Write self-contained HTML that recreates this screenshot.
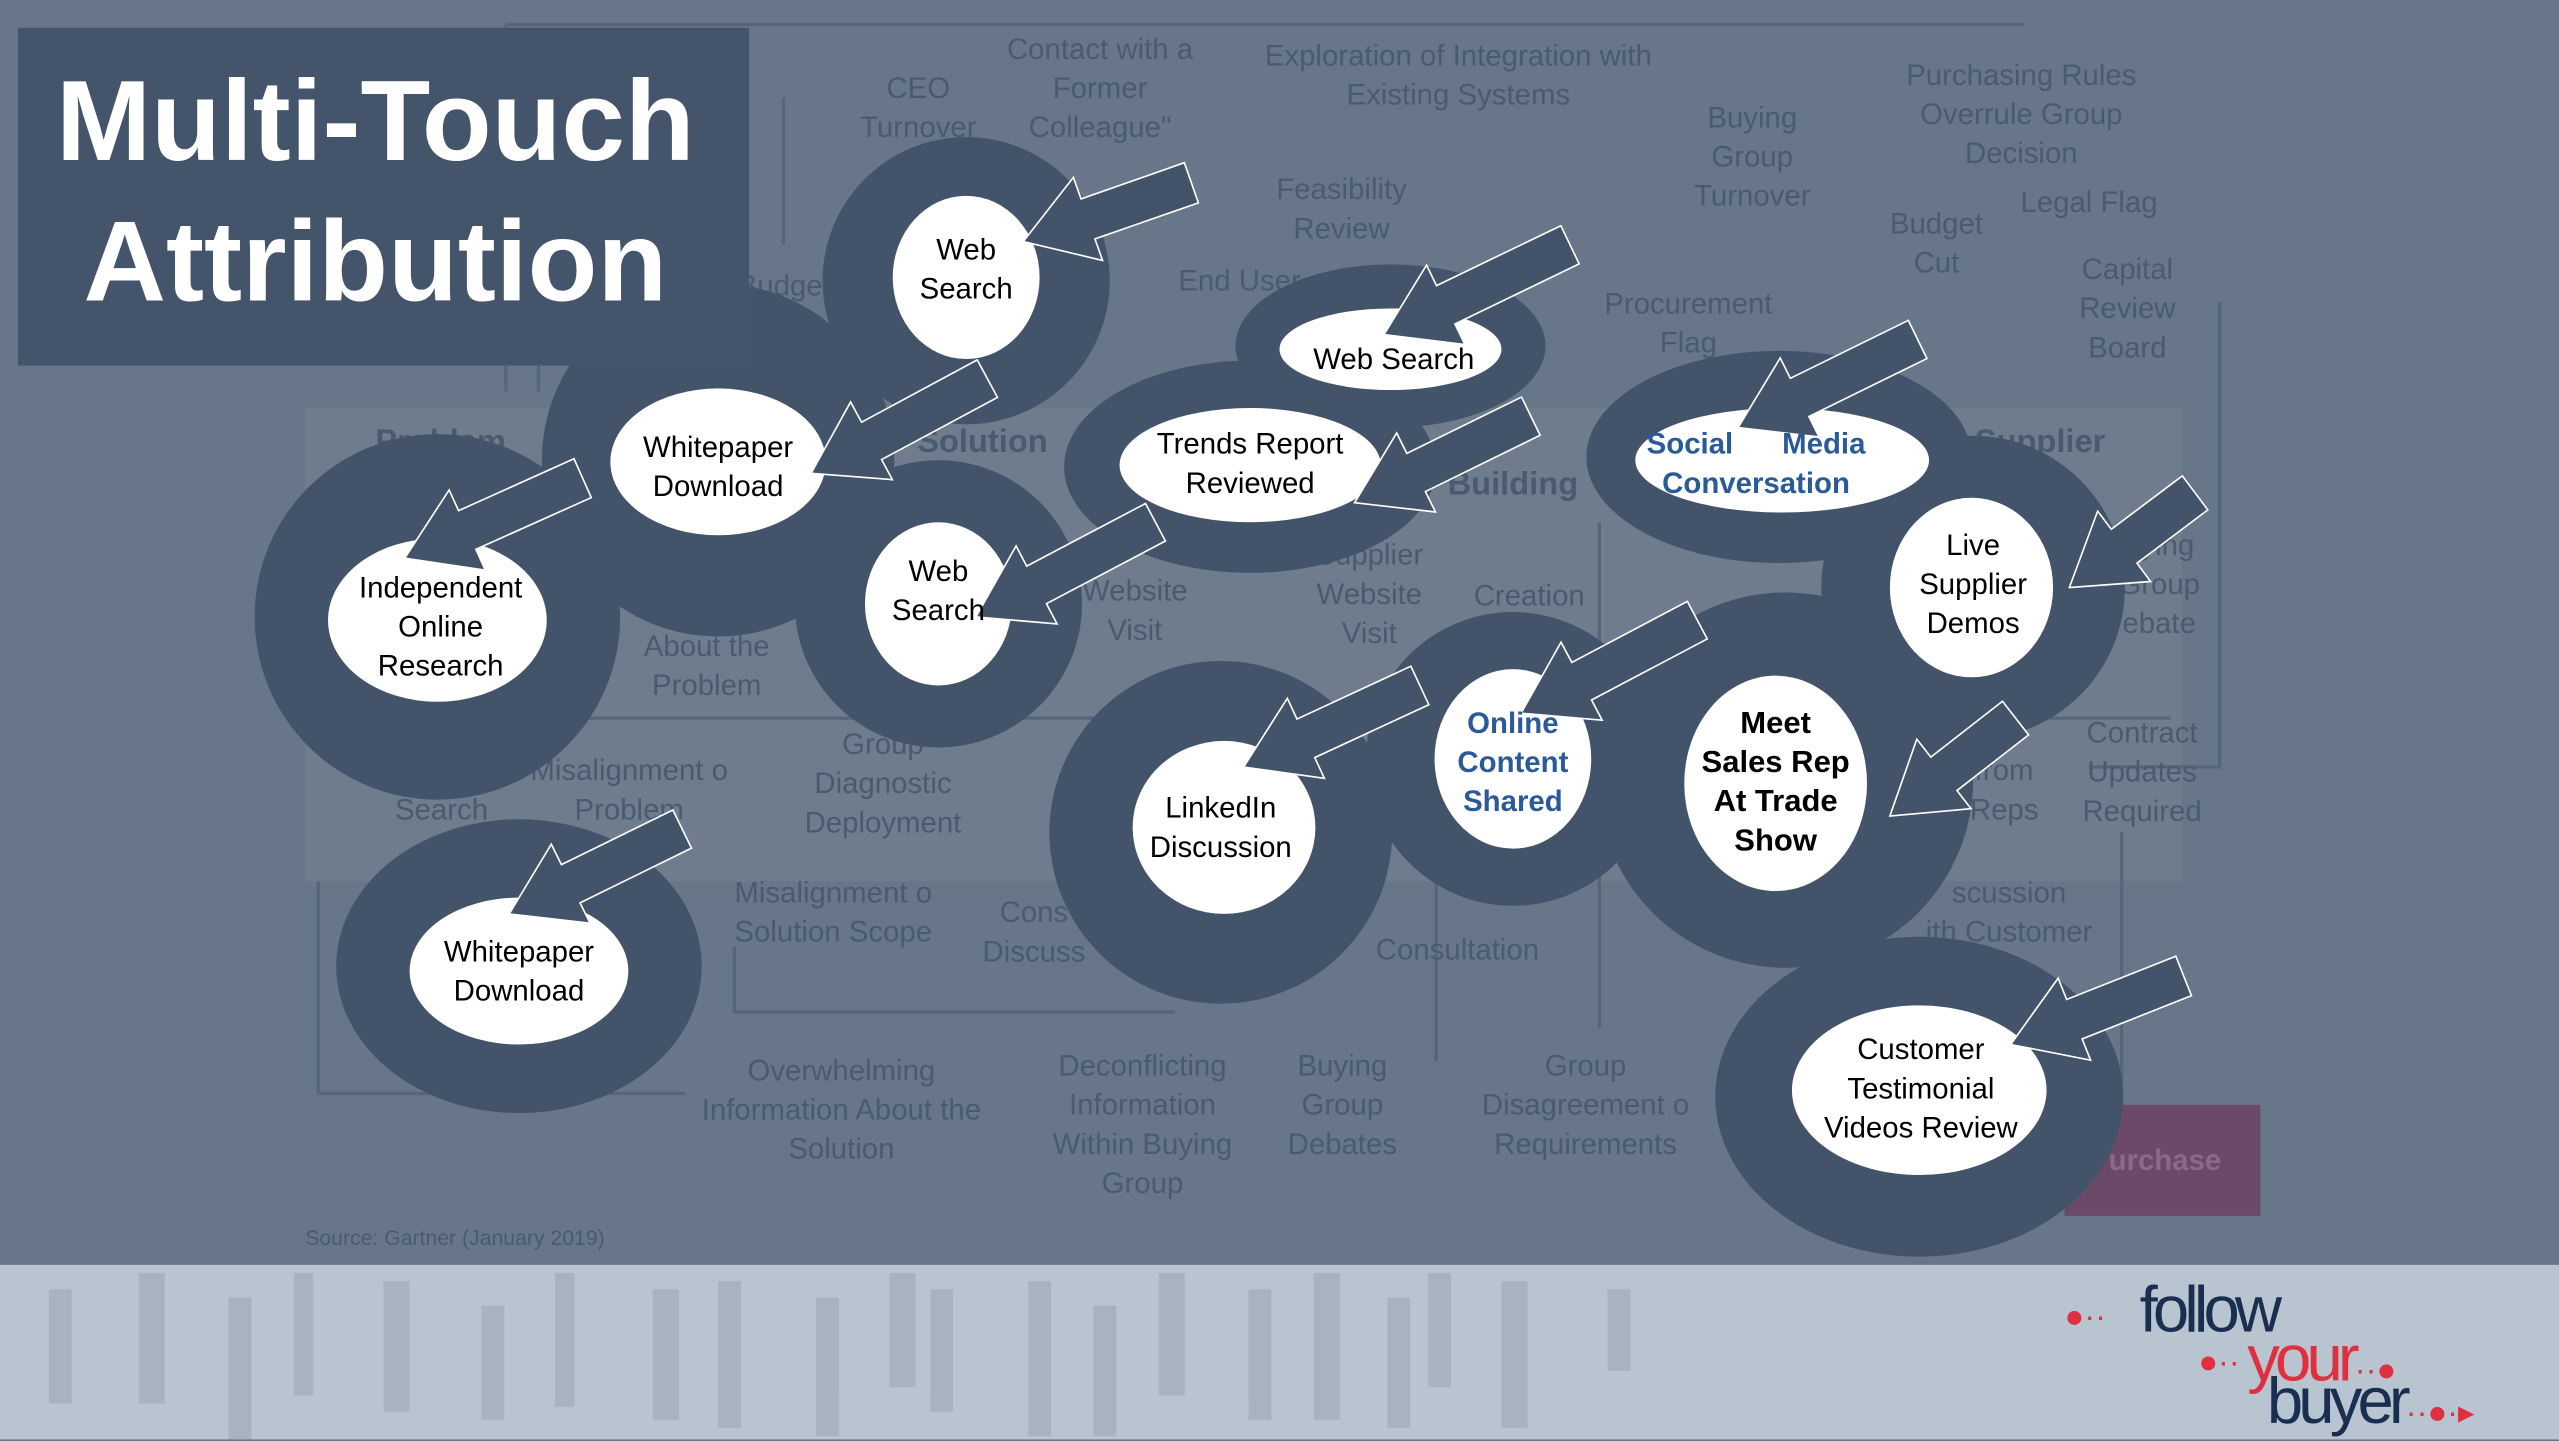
<!DOCTYPE html>
<html><head><meta charset="utf-8"><style>
html,body{margin:0;padding:0;overflow:hidden;background:#687689}
#w{position:absolute;left:0;top:0;width:1568px;height:882px;transform:scale(1.63202);transform-origin:0 0;background:#687689;font-family:"Liberation Sans",sans-serif}
.bt{position:absolute;color:#4a5a70;font-size:18px;text-align:center;line-height:24px;white-space:nowrap}
.bb{font-weight:bold}
svg{position:absolute;left:0;top:0}
.lbl{position:absolute;text-align:center;color:#000;font-size:18px;line-height:24px;white-space:nowrap;transform:translate(-50%,-50%)}
</style></head><body><div id="w">
<svg width="1568" height="882" style="z-index:0">
<g stroke="#56667a" stroke-width="2" fill="none">
<rect x="187" y="250" width="1150" height="290" fill="#6e7c8e" stroke="none"/>
<path d="M310 15 H1240 M195 540 V670 H420 M195 440 H1330 M880 440 V650 M980 320 V630 M1300 510 V680 M1360 185 V470 H1280 M450 580 V620 H720 M310 15 V240 M330 200 V240 M480 60 V150"/>
</g>
<rect x="1265" y="677" width="120" height="68" fill="#6a4a68"/>
<rect x="0" y="775" width="1568" height="107" fill="#b8c4d0"/>
<g fill="#9aa6b4" opacity="0.55">
<rect x="30" y="790" width="14" height="70"/><rect x="85" y="780" width="16" height="80"/><rect x="140" y="795" width="14" height="87"/><rect x="180" y="780" width="12" height="75"/><rect x="235" y="785" width="16" height="80"/><rect x="295" y="800" width="14" height="70"/><rect x="340" y="780" width="12" height="82"/><rect x="400" y="790" width="16" height="80"/><rect x="440" y="785" width="14" height="90"/><rect x="500" y="795" width="14" height="85"/><rect x="545" y="780" width="16" height="70"/><rect x="570" y="790" width="14" height="75"/><rect x="630" y="785" width="14" height="95"/><rect x="670" y="800" width="14" height="80"/><rect x="710" y="780" width="16" height="75"/><rect x="765" y="790" width="14" height="80"/><rect x="805" y="780" width="16" height="90"/><rect x="850" y="795" width="14" height="80"/><rect x="875" y="780" width="14" height="70"/><rect x="920" y="785" width="16" height="90"/><rect x="985" y="790" width="14" height="50"/>
</g>
</svg>

<div class="bt" style="left:527px;top:42px">CEO<br>Turnover</div>
<div class="bt" style="left:617px;top:18px">Contact with a<br>Former<br>Colleague"</div>
<div class="bt" style="left:775px;top:22px">Exploration of Integration with<br>Existing Systems</div>
<div class="bt" style="left:1038px;top:60px">Buying<br>Group<br>Turnover</div>
<div class="bt" style="left:1168px;top:34px">Purchasing Rules<br>Overrule Group<br>Decision</div>
<div class="bt" style="left:1238px;top:112px">Legal Flag</div>
<div class="bt" style="left:782px;top:104px">Feasibility<br>Review</div>
<div class="bt" style="left:1158px;top:125px">Budget<br>Cut</div>
<div class="bt" style="left:1274px;top:153px">Capital<br>Review<br>Board</div>
<div class="bt" style="left:983px;top:174px">Procurement<br>Flag</div>
<div class="bt" style="left:722px;top:160px">End User</div>
<div class="bt" style="left:452px;top:163px">Budge</div>
<div class="bt bb" style="left:230px;top:259px;font-size:20px">Problem</div>
<div class="bt bb" style="left:562px;top:259px;font-size:20px">Solution</div>
<div class="bt bb" style="left:887px;top:285px;font-size:20px">Building</div>
<div class="bt bb" style="left:1210px;top:259px;font-size:20px">Supplier</div>
<div class="bt" style="left:663px;top:350px">Website<br>Visit</div>
<div class="bt" style="left:806px;top:328px">Supplier<br>Website<br>Visit</div>
<div class="bt" style="left:903px;top:353px">Creation</div>
<div class="bt" style="left:1298px;top:322px">uying<br>Group<br>ebate</div>
<div class="bt" style="left:388px;top:360px">Information<br>About the<br>Problem</div>
<div class="bt" style="left:242px;top:460px">Web<br>Search</div>
<div class="bt" style="left:325px;top:460px">Misalignment o<br>Problem</div>
<div class="bt" style="left:493px;top:444px">Group<br>Diagnostic<br>Deployment</div>
<div class="bt" style="left:1276px;top:437px">Contract<br>Updates<br>Required</div>
<div class="bt" style="left:1207px;top:460px">from<br>Reps</div>
<div class="bt" style="left:450px;top:535px">Misalignment o<br>Solution Scope</div>
<div class="bt" style="left:602px;top:547px">Cons<br>Discuss</div>
<div class="bt" style="left:843px;top:570px">Consultation</div>
<div class="bt" style="left:1180px;top:535px">scussion<br>ith Customer</div>
<div class="bt" style="left:430px;top:644px">Overwhelming<br>Information About the<br>Solution</div>
<div class="bt" style="left:645px;top:641px">Deconflicting<br>Information<br>Within Buying<br>Group</div>
<div class="bt" style="left:789px;top:641px">Buying<br>Group<br>Debates</div>
<div class="bt" style="left:908px;top:641px">Group<br>Disagreement o<br>Requirements</div>
<div class="bt bb" style="left:1292px;top:699px;color:#8a6a88">urchase</div>
<div class="bt" style="left:187px;top:747px;font-size:13px">Source: Gartner (January 2019)</div>

<svg width="1568" height="882" id="fg" style="z-index:2">
<g fill="#43546a">
<circle cx="592" cy="172" r="88"/>
<circle cx="440" cy="282" r="108"/>
<circle cx="268" cy="378" r="112"/>
<circle cx="575" cy="370" r="88"/>
<ellipse cx="852" cy="212" rx="95" ry="50"/>
<ellipse cx="766" cy="286" rx="114" ry="65"/>
<ellipse cx="1090" cy="280" rx="118" ry="65"/>
<circle cx="1209" cy="360" r="93"/>
<circle cx="927" cy="465" r="90"/>
<circle cx="748" cy="510" r="105"/>
<circle cx="1094" cy="478" r="115"/>
<ellipse cx="318" cy="592" rx="112" ry="90"/>
<ellipse cx="1176" cy="672" rx="125" ry="98"/>
</g>
<g fill="#fff">
<ellipse cx="592" cy="170" rx="45" ry="50"/>
<ellipse cx="440" cy="283" rx="66" ry="45"/>
<ellipse cx="268" cy="380" rx="67" ry="50"/>
<ellipse cx="575" cy="370" rx="45" ry="50"/>
<ellipse cx="852" cy="214" rx="68" ry="25"/>
<ellipse cx="766" cy="285" rx="80" ry="35"/>
<ellipse cx="1092" cy="282" rx="90" ry="32"/>
<ellipse cx="1208" cy="360" rx="50" ry="55"/>
<ellipse cx="927" cy="465" rx="48" ry="55"/>
<ellipse cx="750" cy="507" rx="56" ry="53"/>
<ellipse cx="1088" cy="480" rx="56" ry="66"/>
<ellipse cx="318" cy="595" rx="67" ry="45"/>
<ellipse cx="1176" cy="668" rx="78" ry="52"/>
</g>
<g id="arr" fill="#43546a" stroke="#fff" stroke-width="1"></g>
</svg>

<div class="lbl" style="left:592px;top:165px;z-index:3">Web<br>Search</div>
<div class="lbl" style="left:440px;top:286px;z-index:3">Whitepaper<br>Download</div>
<div class="lbl" style="left:270px;top:384px;z-index:3">Independent<br>Online<br>Research</div>
<div class="lbl" style="left:575px;top:362px;z-index:3">Web<br>Search</div>
<div class="lbl" style="left:854px;top:220px;z-index:3">Web Search</div>
<div class="lbl" style="left:766px;top:284px;z-index:3">Trends Report<br>Reviewed</div>
<div class="lbl" style="left:1076px;top:284px;z-index:3;color:#2a5a9a;font-weight:bold">Social &nbsp; &nbsp; &nbsp;Media<br>Conversation</div>
<div class="lbl" style="left:1209px;top:358px;z-index:3">Live<br>Supplier<br>Demos</div>
<div class="lbl" style="left:927px;top:467px;z-index:3;color:#2a5a9a;font-weight:bold">Online<br>Content<br>Shared</div>
<div class="lbl" style="left:748px;top:507px;z-index:3">LinkedIn<br>Discussion</div>
<div class="lbl" style="left:1088px;top:480px;z-index:3;font-weight:bold;font-size:19px">Meet<br>Sales Rep<br>At Trade<br>Show</div>
<div class="lbl" style="left:318px;top:595px;z-index:3">Whitepaper<br>Download</div>
<div class="lbl" style="left:1177px;top:667px;z-index:3">Customer<br>Testimonial<br>Videos Review</div>

<div style="position:absolute;left:11px;top:17px;width:448px;height:207px;background:#44556b;z-index:4;color:#fff;font-weight:bold;font-size:70px;line-height:86px;text-align:center;padding-top:14px;box-sizing:border-box;padding-right:10px">Multi-Touch<br>Attribution</div>

<div style="position:absolute;left:1265px;top:782px;width:290px;height:100px;z-index:4;font-family:'Liberation Sans',sans-serif;font-size:40px;letter-spacing:-3px;line-height:34px">
<div style="position:absolute;left:0;top:8px;color:#e03040;font-size:20px;letter-spacing:0">●··</div>
<div style="position:absolute;left:46px;top:4px;color:#1a2e50">follow</div>
<div style="position:absolute;left:82px;top:36px;color:#e03040;font-size:20px;letter-spacing:0">●··</div>
<div style="position:absolute;left:112px;top:34px;color:#e03040">your<span style="font-size:20px;letter-spacing:0">··●</span></div>
<div style="position:absolute;left:124px;top:60px;color:#1a2e50">buyer<span style="font-size:20px;letter-spacing:0;color:#e03040">··●·▸</span></div>
</div>
</div>
<script>
var A=[[627,148,730,112],[848,205,962,150],[497,290,605,232],[248,342,357,293],[830,308,938,255],[598,378,708,320],[1065,262,1175,208],[1268,360,1345,302],[932,437,1040,380],[762,470,870,420],[1158,500,1235,440],[312,560,418,508],[1232,640,1338,598]];
var g=document.getElementById('arr'),s='';
A.forEach(function(a){var tx=a[0],ty=a[1],ex=a[2],ey=a[3],dx=ex-tx,dy=ey-ty,L=Math.hypot(dx,dy),ux=dx/L,uy=dy/L,px=-uy,py=ux,h=42,hw=27,sw=13;
function P(d,w){return (tx+ux*d+px*w).toFixed(1)+','+(ty+uy*d+py*w).toFixed(1)}
var pts=[P(0,0),P(h,hw),P(h,sw),P(L,sw),P(L,-sw),P(h,-sw),P(h,-hw)];
s+='<polygon points="'+pts.join(' ')+'"/>';});
g.innerHTML=s;
</script>
</body></html>
